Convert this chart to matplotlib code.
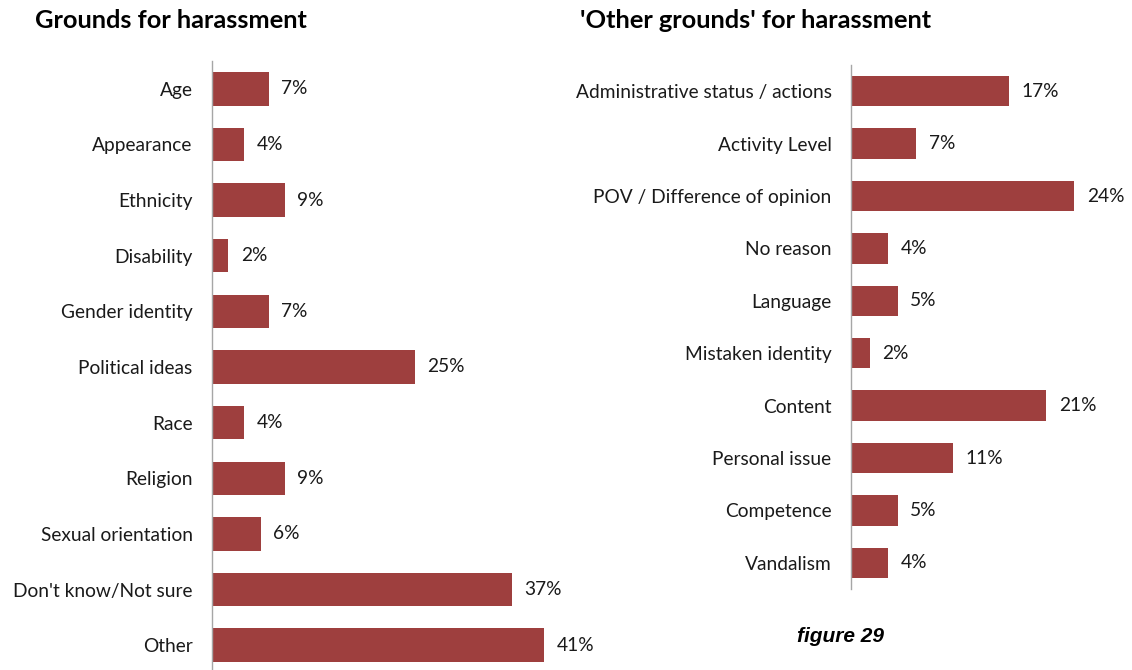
import matplotlib.pyplot as plt

# left panel data
grounds = ["Age", "Appearance", "Ethnicity", "Disability", "Gender identity",
           "Political ideas", "Race", "Religion", "Sexual orientation",
           "Don't know/Not sure", "Other"]
grounds_pct = [7, 4, 9, 2, 7, 25, 4, 9, 6, 37, 41]

# right panel data
other = ["Administrative status / actions", "Activity Level",
         "POV / Difference of opinion", "No reason", "Language",
         "Mistaken identity", "Content", "Personal issue", "Competence",
         "Vandalism"]
other_pct = [17, 7, 24, 4, 5, 2, 21, 11, 5, 4]

bar_color = "#9E3F3E"
font = "Lato"
W, H = 1132, 670

fig = plt.figure(figsize=(W / 100, H / 100), dpi=100)


def panel(rect, labels, values, xmax, height):
    ax = fig.add_axes(rect)
    y = list(range(len(labels)))
    ax.barh(y, values, height=height, color=bar_color)
    ax.set_ylim(len(labels) - 0.5, -0.5)
    ax.set_xlim(0, xmax)
    ax.set_yticks(y)
    ax.set_yticklabels(labels, family=font, fontsize=13.8, color="#1a1a1a")
    ax.tick_params(axis="y", length=0, pad=14)
    ax.set_xticks([])
    for s in ["top", "right", "bottom"]:
        ax.spines[s].set_visible(False)
    ax.spines["left"].set_color("#a6a6a6")
    ax.spines["left"].set_linewidth(1.0)
    for yi, v in zip(y, values):
        ax.annotate(f"{v}%", (v, yi), xytext=(9, 0), textcoords="offset points",
                    va="center", ha="left", family=font, fontsize=13.8,
                    color="#1a1a1a")
    return ax


# left axes: x 212..600 px, y 61..673 px from top
panel([212 / W, (H - 673) / H, 388 / W, 612 / H], grounds, grounds_pct,
      388 / 8.1, 0.6)
# right axes: x 851..1130 px, y 65..589 px from top
panel([851 / W, (H - 589) / H, 279 / W, 524 / H], other, other_pct,
      279 / 9.3, 0.58)

fig.text(35 / W, 1 - 21 / H, "Grounds for harassment", family=font,
         fontweight="bold", fontsize=18.3, va="center", ha="left")
fig.text(580 / W, 1 - 21 / H, "'Other grounds' for harassment", family=font,
         fontweight="bold", fontsize=18.3, va="center", ha="left")
fig.text(840 / W, 1 - 637 / H, "figure 29", family="Liberation Sans",
         fontweight="bold", style="italic", fontsize=15, va="center",
         ha="center")

fig.savefig("out.png", dpi=100)
